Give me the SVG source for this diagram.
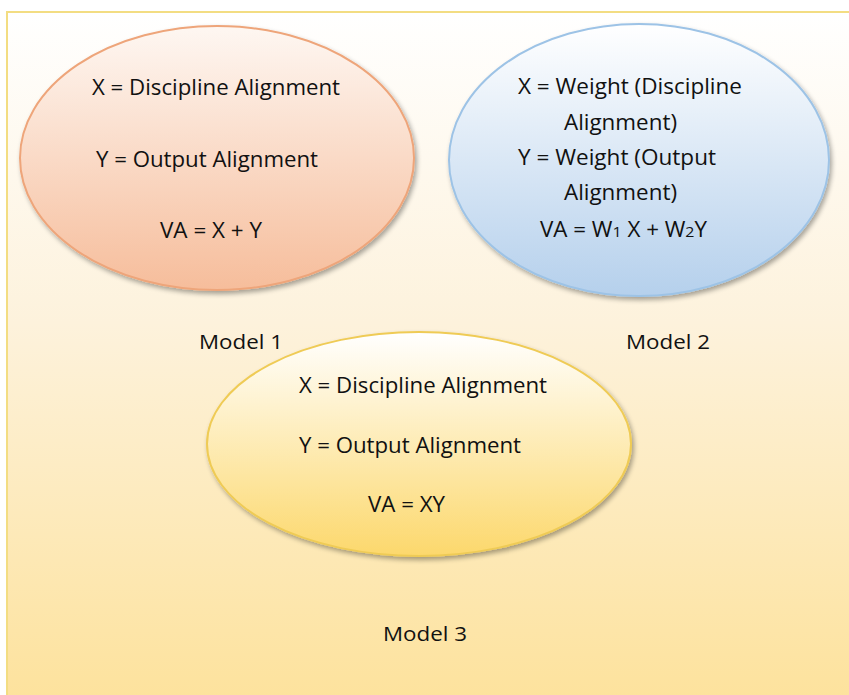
<svg xmlns="http://www.w3.org/2000/svg" width="849" height="695" viewBox="0 0 849 695">
<style>
text{font-family:"Open Sans","Liberation Sans",sans-serif;font-size:21px;fill:#111;}
.lbl{font-size:20px;}
</style>
<defs>
<linearGradient id="bg" x1="0" y1="0" x2="0" y2="1">
<stop offset="0" stop-color="#ffffff"/>
<stop offset="0.45" stop-color="#fdf2dc"/>
<stop offset="1" stop-color="#fde29c"/>
</linearGradient>
<linearGradient id="g1" x1="0" y1="0" x2="0" y2="1">
<stop offset="0" stop-color="#fef7f2"/>
<stop offset="1" stop-color="#f6bd9b"/>
</linearGradient>
<linearGradient id="g2" x1="0" y1="0" x2="0" y2="1">
<stop offset="0" stop-color="#ffffff"/>
<stop offset="1" stop-color="#b5d0ec"/>
</linearGradient>
<linearGradient id="g3" x1="0" y1="0" x2="0" y2="1">
<stop offset="0" stop-color="#ffffff"/>
<stop offset="1" stop-color="#fcd86c"/>
</linearGradient>
<filter id="sh" x="-10%" y="-10%" width="120%" height="130%">
<feGaussianBlur in="SourceAlpha" stdDeviation="2.5"/>
<feOffset dx="2" dy="3" result="b"/>
<feComponentTransfer><feFuncA type="linear" slope="0.35"/></feComponentTransfer>
<feMerge><feMergeNode/><feMergeNode in="SourceGraphic"/></feMerge>
</filter>
</defs>
<rect x="0" y="0" width="849" height="695" fill="#ffffff"/>
<rect x="7" y="12" width="850" height="690" fill="url(#bg)" stroke="#f3dd82" stroke-width="2"/>
<g id="model1">
<ellipse cx="217" cy="158" rx="197" ry="132" fill="url(#g1)" stroke="#eea57a" stroke-width="2" filter="url(#sh)"/>
<text x="92" y="95" textLength="248" lengthAdjust="spacingAndGlyphs">X = Discipline Alignment</text>
<text x="96" y="167" textLength="222" lengthAdjust="spacingAndGlyphs">Y = Output Alignment</text>
<text x="160" y="238" textLength="102" lengthAdjust="spacingAndGlyphs">VA = X + Y</text>
<text class="lbl" x="199" y="349" textLength="84" lengthAdjust="spacingAndGlyphs">Model 1</text>
</g>
<g id="model2">
<ellipse cx="639" cy="160" rx="190" ry="136" fill="url(#g2)" stroke="#9dc3e6" stroke-width="2" filter="url(#sh)"/>
<text x="518" y="94" textLength="224" lengthAdjust="spacingAndGlyphs">X = Weight (Discipline</text>
<text x="564" y="130" textLength="113" lengthAdjust="spacingAndGlyphs">Alignment)</text>
<text x="518" y="165" textLength="198" lengthAdjust="spacingAndGlyphs">Y = Weight (Output</text>
<text x="564" y="200" textLength="113" lengthAdjust="spacingAndGlyphs">Alignment)</text>
<text x="540" y="237" textLength="167" lengthAdjust="spacingAndGlyphs">VA = W<tspan font-size="15">1</tspan> X + W<tspan font-size="15">2</tspan>Y</text>
<text class="lbl" x="626" y="349" textLength="84" lengthAdjust="spacingAndGlyphs">Model 2</text>
</g>
<g id="model3">
<ellipse cx="419" cy="444" rx="212" ry="112" fill="url(#g3)" stroke="#efcb55" stroke-width="2" filter="url(#sh)"/>
<text x="299" y="393" textLength="248" lengthAdjust="spacingAndGlyphs">X = Discipline Alignment</text>
<text x="299" y="453" textLength="222" lengthAdjust="spacingAndGlyphs">Y = Output Alignment</text>
<text x="368" y="512" textLength="77" lengthAdjust="spacingAndGlyphs">VA = XY</text>
<text class="lbl" x="383" y="641" textLength="84" lengthAdjust="spacingAndGlyphs">Model 3</text>
</g>
<g id="connectors"></g>
</svg>
